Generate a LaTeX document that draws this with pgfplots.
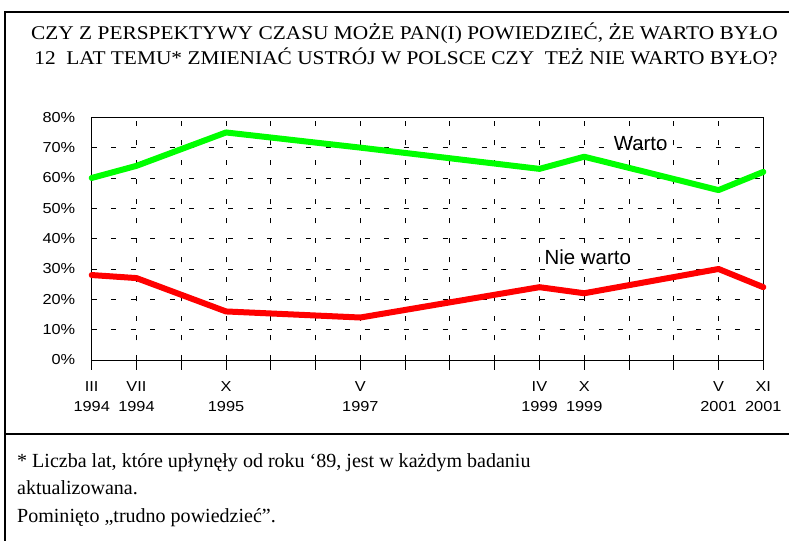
\documentclass[border=0pt]{standalone}
\usepackage{pgfplots}
\pgfplotsset{compat=1.18}
\usepackage{fontspec}
\setmainfont{Liberation Serif}
\newfontfamily\titlefont[FakeStretch=1.1]{Liberation Serif}
\newfontfamily\arial{Liberation Sans}
\newfontfamily\arialw[FakeStretch=1.13]{Liberation Sans}
\definecolor{grn}{RGB}{0,255,0}
\definecolor{rd}{RGB}{255,0,0}
\begin{document}
\begin{tikzpicture}[x=1bp,y=1bp]
\path[use as bounding box] (0,0) rectangle (789,541);
% frame
\draw[line width=2bp] (5,0) -- (5,529) -- (790,529);
\draw[line width=2bp] (5,107) -- (790,107);
% title
\node[anchor=base, inner sep=0pt, font=\titlefont\fontsize{19.5}{22}\selectfont] at (404.5,501) {CZY Z PERSPEKTYWY CZASU MOŻE PAN(I) POWIEDZIEĆ, ŻE WARTO BYŁO};
\node[anchor=base, inner sep=0pt, font=\titlefont\fontsize{19.5}{22}\selectfont] at (406,476) {12\ \ LAT TEMU* ZMIENIAĆ USTRÓJ W POLSCE CZY\ \ TEŻ NIE WARTO BYŁO?};
% footnote
\node[anchor=base west, font=\fontsize{20.1}{22}\selectfont, inner sep=0pt] at (17,73) {* Liczba lat, które upłynęły od roku ‘89, jest w każdym badaniu};
\node[anchor=base west, font=\fontsize{20.1}{22}\selectfont, inner sep=0pt] at (17,46) {aktualizowana.};
\node[anchor=base west, font=\fontsize{20.1}{22}\selectfont, inner sep=0pt] at (17,18) {Pominięto „trudno powiedzieć”.};
\begin{axis}[
  at={(91.7bp,181bp)}, anchor=south west,
  scale only axis, width=671.6bp, height=242.7bp,
  xmin=0, xmax=15, ymin=0, ymax=80,
  xtick={0,...,15},
  xticklabels={{III\\1994},{VII\\1994},{},{X\\1995},{},{},{V\\1997},{},{},{},{IV\\1999},{X\\1999},{},{},{V\\2001},{XI\\2001}},
  ytick={0,10,...,80},
  yticklabel={\pgfmathprintnumber{\tick}\%},
  /pgf/number format/assume math mode=true,
  tick label style={font=\arialw\fontsize{14.5}{20}\selectfont},
  xticklabel style={align=center, yshift=-8bp},
  yticklabel style={xshift=-3bp},
  tick align=outside, tick pos=left,
  xtick style={black, line width=0.8bp},
  major tick length=10bp,
  ytick style={draw=none},
  grid=major,
  major grid style={black, line width=0.8bp, dash pattern=on 5bp off 14.5bp},
  axis line style={black, line width=0.8bp},
  clip=false,
]
\addplot[grn, line width=6bp, line join=round, line cap=round] coordinates {(0,60) (1,64) (3,75) (6,70) (10,63) (11,67) (14,56) (15,62)};
\addplot[rd, line width=6bp, line join=round, line cap=round] coordinates {(0,28) (1,27) (3,16) (6,14) (10,24) (11,22) (14,30) (15,24)};
\node[font=\arial\fontsize{20.5}{24}\selectfont] at (axis cs:12.26,71.5) {Warto};
\node[font=\arial\fontsize{20.5}{24}\selectfont] at (axis cs:11.08,34) {Nie warto};
\end{axis}
\end{tikzpicture}
\end{document}
